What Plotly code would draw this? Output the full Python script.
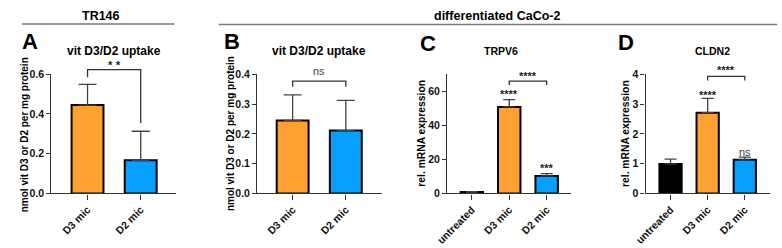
import plotly.graph_objects as go

# ---------------- data ----------------
cats_AB = ["D3 mic", "D2 mic"]
cats_CD = ["untreated", "D3 mic", "D2 mic"]

A_values = [0.445, 0.167]
A_err = [0.104, 0.146]

B_values = [0.245, 0.211]
B_err = [0.086, 0.101]

C_values = [0.8, 50.8, 10.3]
C_err = [0.2, 4.3, 1.3]

D_values = [0.99, 2.71, 1.13]
D_err = [0.16, 0.48, 0.09]

A_colors = ["#FFA033", "#08A0FF"]
CD_colors = ["#000000", "#FFA033", "#08A0FF"]

FONT = "Liberation Sans, Arial, sans-serif"
W, H = 782, 248


def px_x(x):
    return x / W


def px_y(y):
    return (H - y) / H


fig = go.Figure()

panels = [
    # name, cats, values, err, colors, x-domain px, x-range, y-range, dtick, fmt, cap
    ("", cats_AB, A_values, A_err, A_colors, (40, 167), [-0.68, 1.672], [0, 0.6], 0.2, ".1f", 9),
    ("2", cats_AB, B_values, B_err, A_colors, (249, 376), [-0.667, 1.685], [0, 0.4], 0.1, ".1f", 9),
    ("3", cats_CD, C_values, C_err, CD_colors, (442, 568), [-0.658, 2.658], [0, 70], 20, "d", 6),
    ("4", cats_CD, D_values, D_err, CD_colors, (643.5, 769.5), [-0.671, 2.671], [0, 4], 1, "d", 6),
]

y_bottom = px_y(197)
y_top = px_y(71.7)

axis_common = dict(
    showgrid=False, zeroline=False, showline=True, linecolor="#333", linewidth=1.3,
    ticks="outside", tickcolor="#333", tickwidth=1.3,
    tickfont=dict(family=FONT, size=10.5, color="#111", weight="bold"),
    fixedrange=True,
)

layout_axes = {}
for name, cats, vals, errs, cols, xd, xr, yr, dt, fmt, cap in panels:
    xa = "x" + name
    ya = "y" + name
    fig.add_trace(go.Bar(
        x=cats, y=vals, xaxis=xa, yaxis=ya, width=0.6,
        marker=dict(color=cols, line=dict(color="#000", width=2)),
        error_y=dict(type="data", array=errs, arrayminus=[0] * len(errs), symmetric=False,
                     color="#444", thickness=1.3, width=cap),
        showlegend=False,
    ))
    layout_axes["xaxis" + name] = dict(
        axis_common, domain=[px_x(xd[0]), px_x(xd[1])], range=xr, anchor=ya,
        tickangle=-45, ticklen=5, type="category",
    )
    layout_axes["yaxis" + name] = dict(
        axis_common, domain=[y_bottom, y_top], range=yr, anchor=xa,
        dtick=dt, tick0=0, tickformat=fmt, ticklen=4,
    )

fig.update_layout(**layout_axes)

annotations = []
shapes = []


def ann(x, y, text, size, bold=True, angle=0, color="#000", xanchor="center"):
    annotations.append(dict(
        x=x, y=y, xref="paper", yref="paper", text=text, showarrow=False,
        textangle=angle, xanchor=xanchor, yanchor="middle",
        font=dict(family=FONT, size=size, color=color, weight="bold" if bold else "normal"),
    ))


# group headers
ann(px_x(90), px_y(10), "TR146", 12.5)
ann(px_x(493), px_y(11), "differentiated CaCo-2", 12.5)
shapes.append(dict(type="line", xref="paper", yref="paper", x0=px_x(10), x1=px_x(165),
                   y0=px_y(19), y1=px_y(19), line=dict(color="#7a7a7a", width=1.5)))
shapes.append(dict(type="line", xref="paper", yref="paper", x0=px_x(210), x1=px_x(777),
                   y0=px_y(19.5), y1=px_y(19.5), line=dict(color="#7a7a7a", width=1.5)))

# panel letters
for letter, lx, ly in [("A", 8, 37), ("B", 213, 37), ("C", 412, 39), ("D", 613, 38)]:
    ann(px_x(lx), px_y(ly), letter, 22, xanchor="left")

# panel titles
ann(px_x(103.5), px_y(47), "vit D3/D2 uptake", 12)
ann(px_x(312), px_y(47), "vit D3/D2 uptake", 12)
ann(px_x(497), px_y(47.5), "TRPV6", 10.5)
ann(px_x(711), px_y(47.5), "CLDN2", 10.5)

# y titles
ann(px_x(13), px_y(135), "nmol vit D3 or D2 per mg protein", 10, angle=-90)
ann(px_x(222), px_y(134), "nmol vit D3 or D2 per mg protein", 10, angle=-90)
ann(px_x(415), px_y(133.5), "rel. mRNA expression", 10.3, angle=-90)
ann(px_x(623), px_y(134), "rel. mRNA expression", 10.3, angle=-90)


def bracket(name, ymax, i0, i1, ytop, yl, yr_):
    xa = "x" + name
    yd = ("y" + name) + " domain"
    path = "M {a},{b} L {a},{c} L {d},{c} L {d},{e}".format(
        a=i0, b=yl / ymax, c=ytop / ymax, d=i1, e=yr_ / ymax)
    shapes.append(dict(type="path", xref=xa, yref=yd, path=path,
                       line=dict(color="#333", width=1.3)))


def star(name, ymax, xi, y, text, size=12, bold=True, color="#222"):
    annotations.append(dict(
        x=xi, y=y / ymax, xref="x" + name, yref="y" + name + " domain", text=text,
        showarrow=False, xanchor="center", yanchor="middle",
        font=dict(family=FONT, size=size, color=color, weight="bold" if bold else "normal"),
    ))


# A
bracket("", 0.6, 0, 1, 0.623, 0.585, 0.354)
star("", 0.6, 0.5, 0.645, "* *", 11.5)
# B
bracket("2", 0.4, 0, 1, 0.377, 0.358, 0.358)
star("2", 0.4, 0.5, 0.410, "ns", 11, bold=False, color="#444")
# C
bracket("3", 70, 1, 2, 65.9, 63.7, 63.7)
star("3", 70, 1.5, 69.0, "****", 11)
star("3", 70, 1, 58.3, "****", 11)
star("3", 70, 2, 14.8, "***", 11)
# D
bracket("4", 4, 1, 2, 3.93, 3.79, 3.79)
star("4", 4, 1.5, 4.13, "****", 11)
star("4", 4, 1, 3.31, "****", 11)
star("4", 4, 2, 1.38, "ns", 11, bold=False, color="#444")

fig.update_layout(
    width=W, height=H, margin=dict(l=0, r=0, t=0, b=0),
    paper_bgcolor="white", plot_bgcolor="white",
    annotations=annotations, shapes=shapes, bargap=0.3,
)

fig.write_html("out.html", config={"displayModeBar": False},
               post_script="document.body.style.margin='0';document.body.style.padding='0';")
